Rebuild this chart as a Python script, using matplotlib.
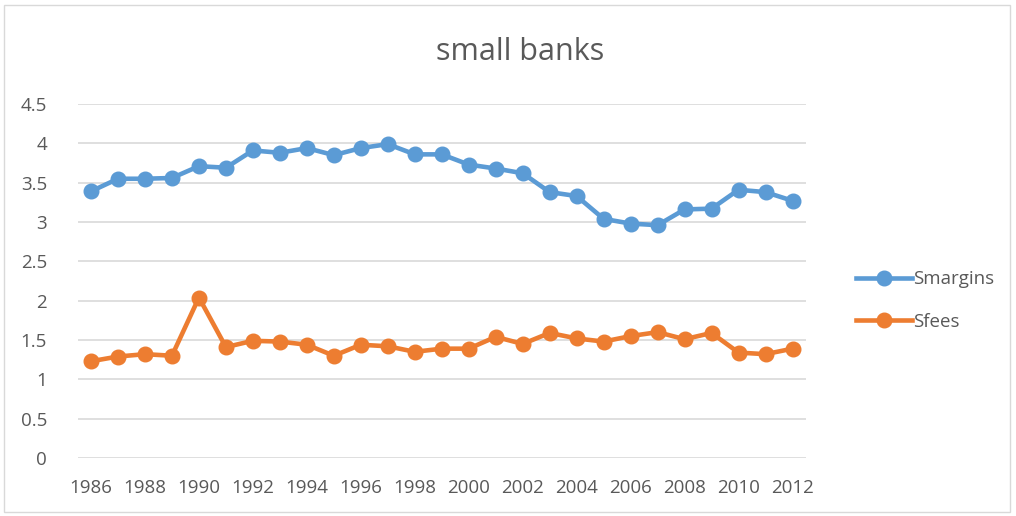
import matplotlib
matplotlib.use("Agg")
import matplotlib.pyplot as plt
from matplotlib.patches import Rectangle

# donnees
years = list(range(1986, 2013))
smargins = [3.39, 3.55, 3.55, 3.56, 3.71, 3.69, 3.91, 3.88, 3.94, 3.85,
            3.94, 3.99, 3.86, 3.86, 3.73, 3.68, 3.62, 3.38, 3.33, 3.04,
            2.98, 2.96, 3.16, 3.17, 3.41, 3.38, 3.27]
sfees = [1.23, 1.29, 1.32, 1.30, 2.04, 1.41, 1.49, 1.48, 1.44, 1.30,
         1.44, 1.42, 1.35, 1.39, 1.39, 1.54, 1.45, 1.59, 1.52, 1.48,
         1.55, 1.60, 1.51, 1.59, 1.34, 1.32, 1.39]
yticks = [0, 0.5, 1, 1.5, 2, 2.5, 3, 3.5, 4, 4.5]

plt.rcParams['font.family'] = ['Open Sans', 'DejaVu Sans']
gris = '#595959'

fig = plt.figure(figsize=(10.16, 5.16), dpi=100)
ax = fig.add_axes([0.0763, 0.1124, 0.7170, 0.6860])

ax.plot(years, smargins, color='#5B9BD5', lw=3.3, marker='o', ms=10.5, label='Smargins')
ax.plot(years, sfees, color='#ED7D31', lw=3.3, marker='o', ms=10.5, label='Sfees')

ax.set_xlim(1985.5, 2012.5)
ax.set_ylim(0, 4.5)
ax.set_yticks(yticks)
ax.set_yticklabels(['0', '0.5', '1', '1.5', '2', '2.5', '3', '3.5', '4', '4.5'])
ax.set_xticks(years[::2])
ax.grid(axis='y', color='#d9d9d9', lw=1.2)
ax.set_axisbelow(True)
for s in ax.spines.values():
    s.set_visible(False)
ax.tick_params(length=0, labelsize=13.5, colors=gris)
ax.tick_params(axis='x', pad=15)
ax.tick_params(axis='y', pad=22)

fig.text(0.512, 0.90, 'small banks', ha='center', va='center', fontsize=22, color=gris)

leg = ax.legend(loc='center left', bbox_to_anchor=(1.045, 0.445), frameon=False,
                fontsize=13.5, labelspacing=1.3, handlelength=3.0, handletextpad=0.05)
for t in leg.get_texts():
    t.set_color(gris)

# cadre du graphique
fig.patches.append(Rectangle((0.004, 0.008), 0.99, 0.982, transform=fig.transFigure,
                             fill=False, edgecolor='#d9d9d9', lw=1))

fig.savefig('out.png', dpi=100)
